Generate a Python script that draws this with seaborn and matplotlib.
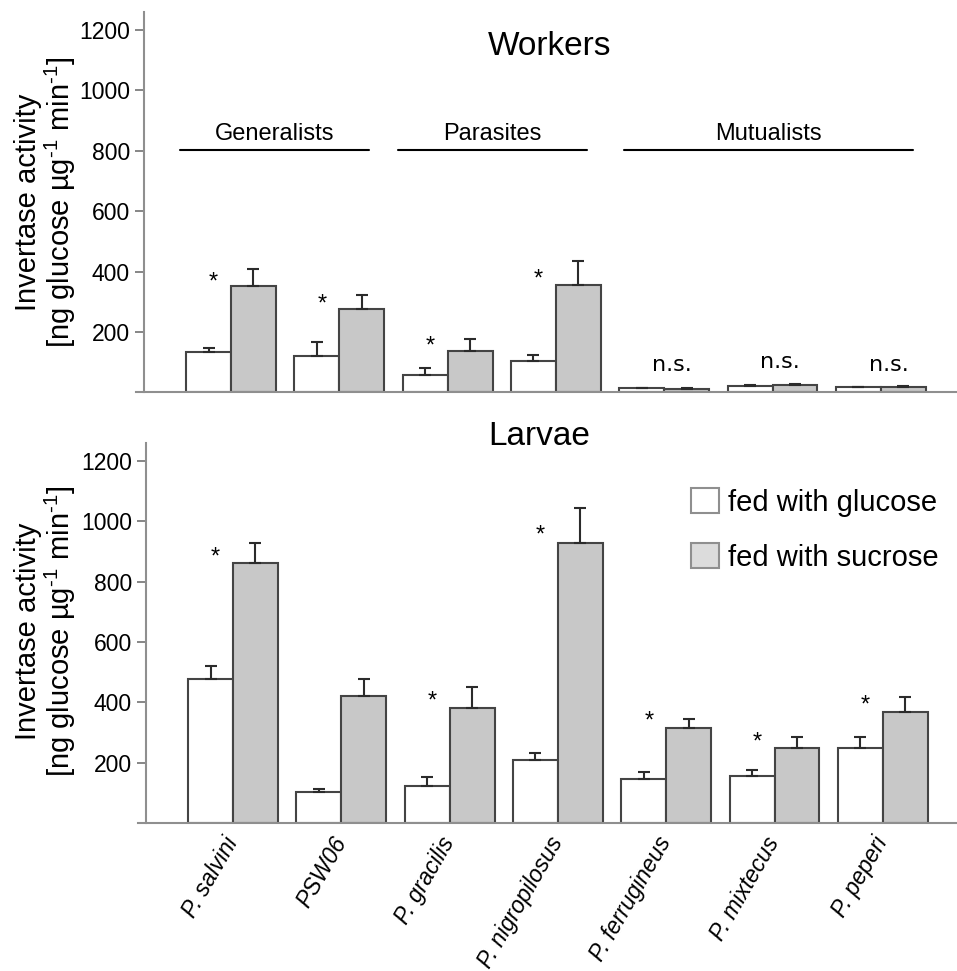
import numpy as np
import pandas as pd
import matplotlib
matplotlib.use("Agg")
import matplotlib.pyplot as plt
import seaborn as sns
from matplotlib.patches import Patch

# ---------------- data ----------------
species = ["P. salvini", "PSW06", "P. gracilis", "P. nigropilosus",
           "P. ferrugineus", "P. mixtecus", "P. peperi"]
conditions = ["fed with glucose", "fed with sucrose"]

workers_glucose = [134, 121, 57, 104, 13, 22, 16]
workers_glucose_err = [14, 45, 25, 19, 2, 3, 3]
workers_sucrose = [352, 276, 138, 355, 12, 24, 18]
workers_sucrose_err = [56, 48, 40, 79, 2, 4, 3]

larvae_glucose = [478, 103, 124, 209, 147, 158, 248]
larvae_glucose_err = [44, 10, 28, 25, 24, 18, 39]
larvae_sucrose = [862, 423, 383, 929, 315, 250, 370]
larvae_sucrose_err = [65, 55, 67, 116, 29, 37, 49]

workers_sig = ["*", "*", "*", "*", "n.s.", "n.s.", "n.s."]
workers_sig_y = [379, 306, 167, 389, 91, 101, 91]
larvae_sig = ["*", "", "*", "*", "*", "*", "*"]
larvae_sig_y = [894, 0, 417, 968, 353, 283, 406]

groups = ["Generalists", "Parasites", "Mutualists"]
group_start = [-0.47, 1.54, 3.63]
group_end = [1.27, 3.29, 6.30]
group_line_y = 804
group_text_y = 855

yticks = [200, 400, 600, 800, 1000, 1200]
ylabel = "Invertase activity\n[ng glucose µg$^{\\text{-}1}$ min$^{\\text{-}1}$]"

# ---------------- style ----------------
sns.set_style("white")
plt.rcParams["font.family"] = ["Liberation Sans", "DejaVu Sans"]
plt.rcParams["mathtext.fontset"] = "custom"
plt.rcParams["mathtext.rm"] = "Liberation Sans"
plt.rcParams["mathtext.it"] = "Liberation Sans:italic"
plt.rcParams["mathtext.default"] = "rm"
plt.rcParams["text.color"] = "black"
plt.rcParams["axes.labelcolor"] = "black"
plt.rcParams["xtick.labelcolor"] = "black"
plt.rcParams["ytick.labelcolor"] = "black"

W, H = 957, 971
fig = plt.figure(figsize=(W / 100, H / 100), dpi=100)

SPINE = "#8f8f8f"
TICK = "#666666"
EDGE = "#444444"
XLIM = (-0.88, 6.70)


def make_ax(left_px, top_px, bottom_px):
    width_px = (XLIM[1] - XLIM[0]) * 108.3
    return fig.add_axes([left_px / W, 1 - bottom_px / H,
                         width_px / W, (bottom_px - top_px) / H])


def draw(ax, gl, ge, sl, se, ymax):
    df = pd.DataFrame({
        "species": species * 2,
        "condition": [conditions[0]] * len(species) + [conditions[1]] * len(species),
        "value": gl + sl,
    })
    sns.barplot(data=df, x="species", y="value", hue="condition",
                order=species, hue_order=conditions,
                palette=["white", "#c8c8c8"], width=0.83, saturation=1,
                edgecolor=EDGE, linewidth=1.5, errorbar=None,
                legend=False, ax=ax)
    for cont, err in zip(ax.containers, [ge, se]):
        xs = [p.get_x() + p.get_width() / 2 for p in cont]
        ys = [p.get_height() for p in cont]
        ax.errorbar(xs, ys, yerr=[np.zeros(len(err)), err], fmt="none",
                    ecolor="#2b2b2b", elinewidth=1.5, capsize=4.3,
                    capthick=1.5, zorder=1)
    ax.set_xlim(*XLIM)
    ax.set_ylim(0, ymax)
    ax.set_yticks(yticks)
    ax.set_xlabel("")
    ax.set_ylabel("")
    for s in ["top", "right"]:
        ax.spines[s].set_visible(False)
    for s in ["left", "bottom"]:
        ax.spines[s].set_color(SPINE)
        ax.spines[s].set_linewidth(1.5)
    ax.spines["left"].set_position(("data", -0.80))
    ax.tick_params(axis="y", length=6.5, width=1.1, color=TICK,
                   labelsize=16.5, pad=4, direction="out", left=True)
    ax.tick_params(axis="x", length=0)


# ---------------- top: workers ----------------
ax1 = make_ax(135.7, 12, 392.3)
draw(ax1, workers_glucose, workers_glucose_err,
     workers_sucrose, workers_sucrose_err, 1260)
ax1.set_xticklabels([])
for i, (s, y) in enumerate(zip(workers_sig, workers_sig_y)):
    if s == "*":
        ax1.text(i - 0.16, y - 15, s, ha="center", va="center", fontsize=17)
    elif s:
        ax1.text(i + 0.07, y, s, ha="center", va="center", fontsize=16,
                 family="DejaVu Sans")
for name, a, b in zip(groups, group_start, group_end):
    ax1.plot([a, b], [group_line_y, group_line_y], color="black", lw=1.5,
             clip_on=False)
    ax1.text((a + b) / 2, group_text_y, name, ha="center", va="center",
             fontsize=17)
ax1.text(2.94, 1145, "Workers", ha="center", va="center", fontsize=24)

# ---------------- bottom: larvae ----------------
ax2 = make_ax(137.7, 443.3, 823.3)
draw(ax2, larvae_glucose, larvae_glucose_err,
     larvae_sucrose, larvae_sucrose_err, 1258)
for i, (s, y) in enumerate(zip(larvae_sig, larvae_sig_y)):
    if s:
        ax2.text(i - 0.16, y - 15, s, ha="center", va="center", fontsize=17)
ax2.text(2.83, 1280, "Larvae", ha="center", va="center", fontsize=24)
ax2.tick_params(axis="x", length=0, pad=11, labelsize=16.5)
plt.setp(ax2.get_xticklabels(), rotation=60, ha="right", va="center",
         rotation_mode="anchor", style="italic")

handles = [Patch(facecolor="white", edgecolor=SPINE, linewidth=1.5),
           Patch(facecolor="#dcdcdc", edgecolor=SPINE, linewidth=1.5)]
ax2.legend(handles, conditions, loc="upper left",
           bbox_to_anchor=(691 / W, 1 - 488 / H), bbox_transform=fig.transFigure,
           frameon=False, fontsize=21, handlelength=0.96, handleheight=0.96,
           handletextpad=0.3, labelspacing=0.9, borderpad=0, borderaxespad=0)

# ---------------- y labels ----------------
for yc in [202, 631]:
    fig.text(46 / W, 1 - yc / H, ylabel, rotation=90, ha="center",
             va="center", fontsize=21, linespacing=1.05)

fig.savefig("out.png", dpi=100)
